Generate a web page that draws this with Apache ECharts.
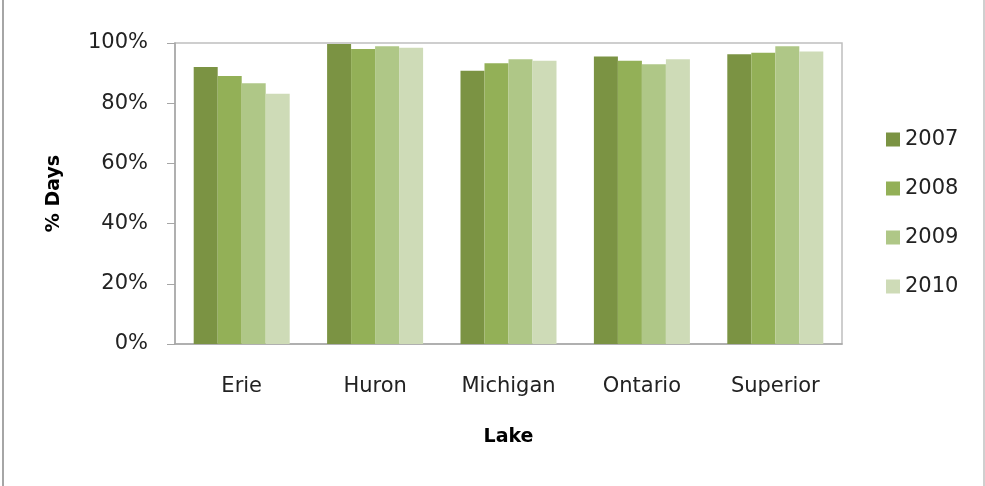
<!DOCTYPE html>
<html>
<head>
<meta charset="utf-8">
<script src="https://cdn.jsdelivr.net/npm/echarts@6/dist/echarts.min.js"></script>
<style>
html,body{margin:0;padding:0;background:#fff;}
#chart{width:985px;height:486px;}
</style>
</head>
<body>
<div id="chart"></div>
<script>
const lakes = ['Erie', 'Huron', 'Michigan', 'Ontario', 'Superior'];
const years = ['2007', '2008', '2009', '2010'];
const v2007 = [0.920, 0.997, 0.908, 0.955, 0.963];
const v2008 = [0.890, 0.980, 0.933, 0.941, 0.968];
const v2009 = [0.866, 0.989, 0.946, 0.929, 0.989];
const v2010 = [0.831, 0.984, 0.941, 0.946, 0.972];
const yTicks = [0, 0.2, 0.4, 0.6, 0.8, 1.0];

const colors = ['#7B9343', '#93B057', '#AFC787', '#CEDBB7'];
const seriesValues = [v2007, v2008, v2009, v2010];
const FONT = '"DejaVu Sans", sans-serif';

const chart = echarts.init(document.getElementById('chart'), null, {renderer: 'canvas'});
chart.setOption({
  animation: false,
  backgroundColor: '#ffffff',
  color: colors,
  textStyle: {fontFamily: FONT},
  graphic: [
    {type: 'line', shape: {x1: 3, y1: 0, x2: 3, y2: 486}, style: {stroke: '#a6a6a6', lineWidth: 2}},
    {type: 'line', shape: {x1: 984, y1: 0, x2: 984, y2: 486}, style: {stroke: '#bfbfbf', lineWidth: 1.5}}
  ],
  grid: {
    left: 175, right: 143, top: 43, bottom: 142,
    show: true, borderColor: '#bfbfbf', borderWidth: 1.5, backgroundColor: 'transparent'
  },
  legend: {
    orient: 'vertical',
    left: 881, top: 124,
    itemWidth: 14, itemHeight: 14, itemGap: 28,
    itemStyle: {borderWidth: 0},
    icon: 'rect',
    textStyle: {fontSize: 21, color: '#222', fontFamily: FONT, padding: [0, 0, 0, 0]},
    data: years
  },
  xAxis: {
    type: 'category',
    data: lakes,
    name: 'Lake',
    nameLocation: 'middle',
    nameGap: 84,
    nameTextStyle: {fontSize: 19, fontWeight: 'bold', color: '#000', fontFamily: FONT},
    axisLine: {lineStyle: {color: '#a6a6a6', width: 1.5}},
    axisTick: {show: false},
    axisLabel: {fontSize: 21, color: '#222', margin: 32, fontFamily: FONT}
  },
  yAxis: {
    type: 'value',
    min: 0, max: 1, interval: 0.2,
    name: '% Days',
    nameLocation: 'middle',
    nameGap: 111,
    nameTextStyle: {fontSize: 19, fontWeight: 'bold', color: '#000', fontFamily: FONT},
    axisLine: {show: true, lineStyle: {color: '#a6a6a6', width: 1.5}},
    axisTick: {show: true, length: 8, lineStyle: {color: '#a6a6a6'}},
    splitLine: {show: false},
    axisLabel: {
      fontSize: 21, color: '#222', margin: 27, fontFamily: FONT,
      formatter: function (v) { return Math.round(v * 100) + '%'; }
    }
  },
  series: years.map(function (y, i) {
    return {
      name: y,
      type: 'bar',
      data: seriesValues[i],
      barWidth: 24,
      barGap: '0%',
      itemStyle: {color: colors[i]}
    };
  })
});
</script>
</body>
</html>
